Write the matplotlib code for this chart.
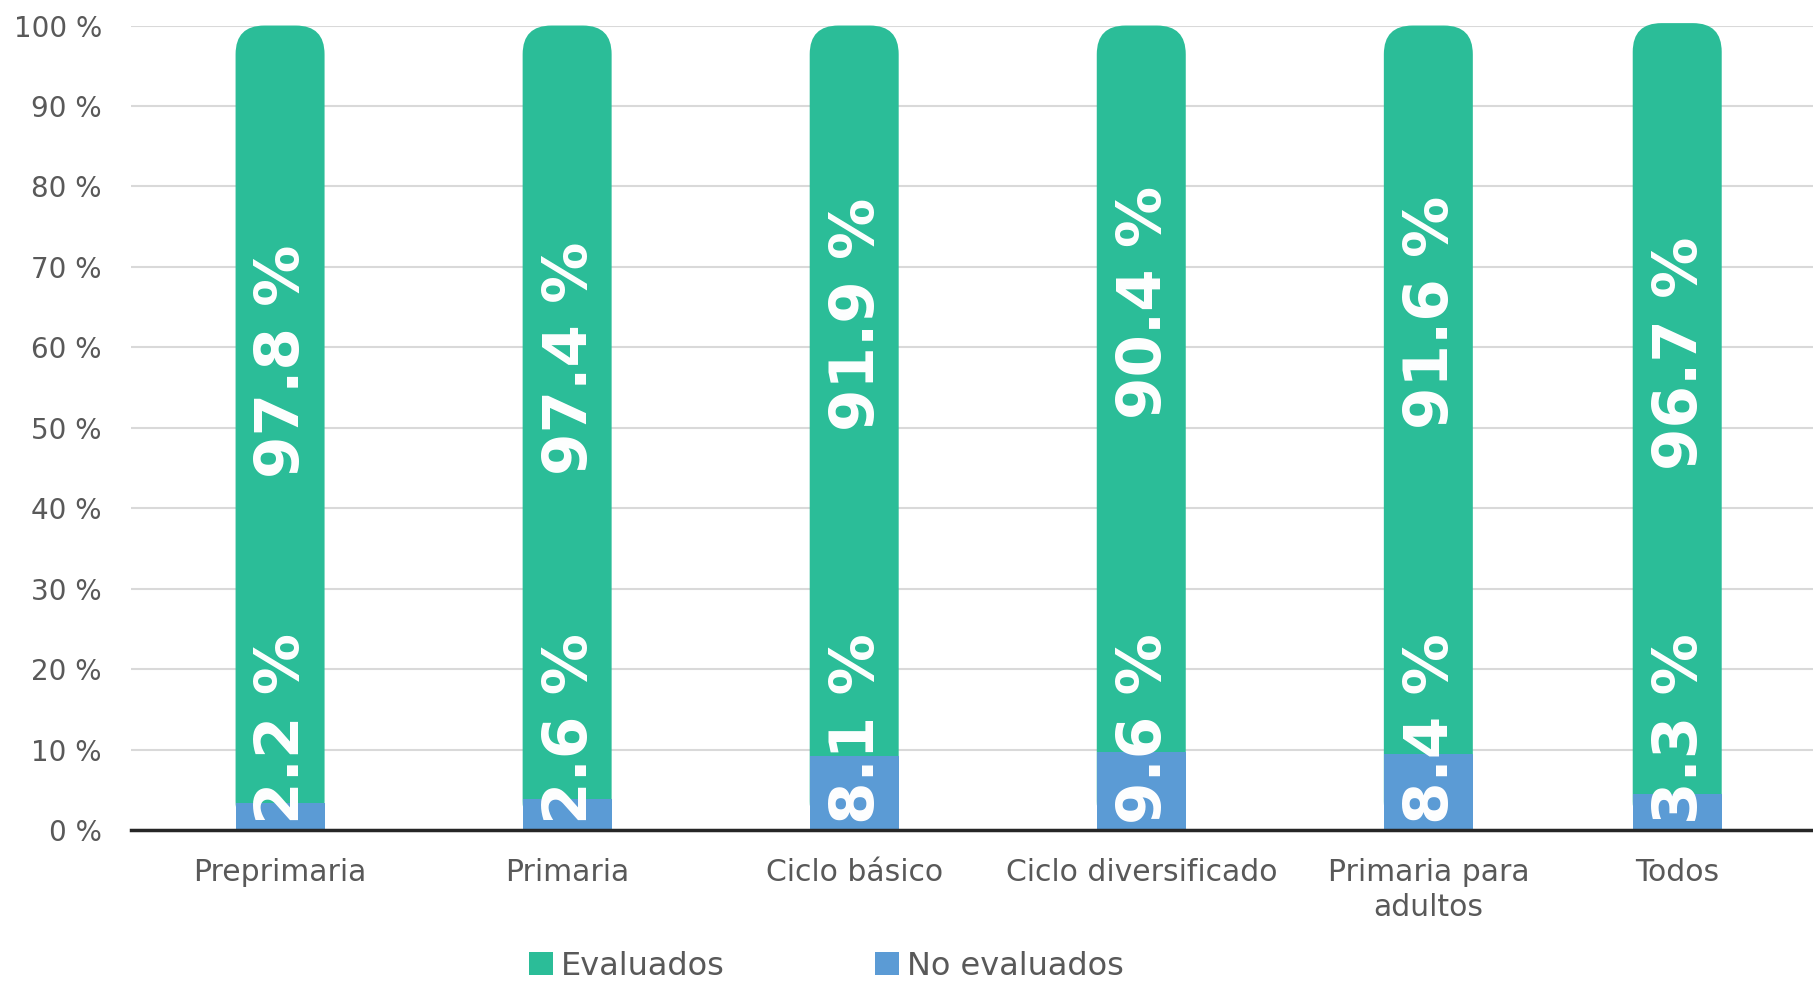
import matplotlib.pyplot as plt
from matplotlib.patches import FancyBboxPatch

# datos
categorias = ['Preprimaria', 'Primaria', 'Ciclo básico', 'Ciclo diversificado',
              'Primaria para\nadultos', 'Todos']
evaluados = [97.8, 97.4, 91.9, 90.4, 91.6, 96.7]
no_evaluados = [2.2, 2.6, 8.1, 9.6, 8.4, 3.3]
# altura visible de la barra azul
altura_no_eval = [3.4, 3.8, 9.2, 9.7, 9.4, 4.5]
altura_total = [100, 100, 100, 100, 100, 100.3]

verde = '#2BBD98'
azul = '#5B9BD5'
gris = '#595959'

plt.rcParams['font.family'] = ['DejaVu Sans']

fig = plt.figure(figsize=(18.13, 9.82), dpi=100)
ax = fig.add_axes([0.0723, 0.1548, 0.9277, 0.8192])

xs = [0, 1, 2, 3, 4, 4.867]
ancho = 0.31
r = 0.1
aspecto = (100 / 804) / (1 / 287)

# barras verdes con la parte superior redondeada
for i, x in enumerate(xs):
    caja = FancyBboxPatch((x - ancho / 2, 0), ancho, altura_total[i],
                          boxstyle=f'round,pad=0,rounding_size={r}',
                          mutation_aspect=aspecto, fc=verde, ec='none',
                          zorder=2, clip_on=False)
    ax.add_patch(caja)
ax.bar(xs, altura_no_eval, width=ancho, color=azul, zorder=3)

for i, x in enumerate(xs):
    ax.text(x + 0.01, (100 - evaluados[i]) + 41.5, f'{evaluados[i]:.1f} %',
            rotation=90, ha='center', va='bottom', color='white',
            fontsize=44, fontweight='bold', zorder=5)
    ax.text(x + 0.01, 0.8, f'{no_evaluados[i]:.1f} %',
            rotation=90, ha='center', va='bottom', color='white',
            fontsize=44, fontweight='bold', zorder=5)

ax.set_xlim(-0.519, 5.34)
ax.set_ylim(0, 100)
ax.set_yticks(range(0, 101, 10))
ax.set_yticklabels([f'{v} %' for v in range(0, 101, 10)])
ax.set_xticks(xs)
ax.set_xticklabels(categorias, linespacing=1.25)
ax.tick_params(axis='y', length=0, pad=21, labelsize=20, labelcolor=gris)
ax.tick_params(axis='x', length=0, pad=20, labelsize=21.5, labelcolor=gris)
ax.grid(axis='y', color='#D9D9D9', linewidth=1.5, zorder=0)
ax.set_axisbelow(True)
for s in ['top', 'right', 'left']:
    ax.spines[s].set_visible(False)
ax.spines['bottom'].set_color('#262626')
ax.spines['bottom'].set_linewidth(2.5)
ax.spines['bottom'].set_zorder(6)

h1 = plt.Rectangle((0, 0), 1, 1, fc=verde)
h2 = plt.Rectangle((0, 0), 1, 1, fc=azul)
fig.legend([h1, h2], ['Evaluados', 'No evaluados'], loc='center',
           bbox_to_anchor=(0.456, 0.016), ncol=2, frameon=False,
           fontsize=23, labelcolor=gris, handlelength=0.75, handleheight=0.75,
           handletextpad=0.25, columnspacing=4.7, borderpad=0)

fig.savefig('out.png', dpi=100)
